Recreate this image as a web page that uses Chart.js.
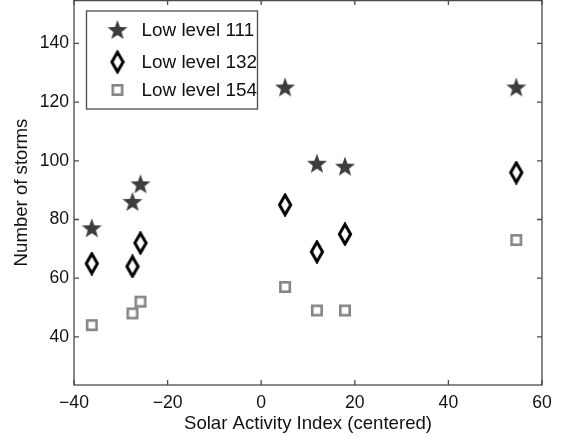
<!DOCTYPE html>
<html>
<head>
<meta charset="utf-8">
<script src="https://cdn.jsdelivr.net/npm/chart.js@4/dist/chart.umd.min.js"></script>
<style>
  html, body { margin: 0; padding: 0; background: #fff; overflow: hidden; }
  #wrap { width: 564px; height: 438px; overflow: hidden; }
  #c { display: block; }
</style>
</head>
<body>
<div id="wrap"><canvas id="c" width="564" height="438"></canvas></div>
<script>
// Solar activity index (centered) for each period
const solarIndex = [-36.2, -27.5, -25.8, 5.1, 11.9, 17.9, 54.5];
// Storm counts per low-level threshold
const stormsLow111 = [77, 86, 92, 125, 99, 98, 125];
const stormsLow132 = [65, 64, 72, 85, 69, 75, 96];
const stormsLow154 = [44, 48, 52, 57, 49, 49, 73];
const seriesNames = ['Low level 111', 'Low level 132', 'Low level 154'];
const xTickValues = [-40, -20, 0, 20, 40, 60];
const yTickValues = [40, 60, 80, 100, 120, 140];

const FONT = 'Liberation Sans, Arial, Helvetica, sans-serif';
const TICK_SIZE = 17.6;
const TITLE_SIZE = 18.6;
const LEGEND_SIZE = 18.9;
const PAGE_W = 564, PAGE_H = 438;
const PLOT_H = 385;   // height of the framed plot, flush with the page top

// Marker glyphs drawn once onto small canvases
function starMarker() {
  const c = document.createElement('canvas');
  c.width = 22; c.height = 22;
  const g = c.getContext('2d');
  const cx = 11, cy = 11.6, R = 10.5, r = 4.3;
  g.beginPath();
  for (let i = 0; i < 10; i++) {
    const a = -Math.PI / 2 + i * Math.PI / 5;
    const rad = i % 2 === 0 ? R : r;
    const px = cx + rad * Math.cos(a), py = cy + rad * Math.sin(a);
    i === 0 ? g.moveTo(px, py) : g.lineTo(px, py);
  }
  g.closePath();
  g.fillStyle = '#3d3d3d';
  g.fill();
  return c;
}
function diamondMarker() {
  const c = document.createElement('canvas');
  c.width = 16; c.height = 24;
  const g = c.getContext('2d');
  g.beginPath();
  g.moveTo(8, 2.2); g.lineTo(13.6, 12); g.lineTo(8, 21.8); g.lineTo(2.4, 12);
  g.closePath();
  g.fillStyle = '#fff';
  g.fill();
  g.lineWidth = 3;
  g.lineJoin = 'miter';
  g.strokeStyle = '#000';
  g.stroke();
  return c;
}
function squareMarker() {
  const c = document.createElement('canvas');
  c.width = 14; c.height = 14;
  const g = c.getContext('2d');
  g.fillStyle = '#fff';
  g.fillRect(2, 2, 10, 10);
  g.lineWidth = 2.6;
  g.strokeStyle = '#858585';
  g.strokeRect(2.3, 2.3, 9.4, 9.4);
  return c;
}
const markers = [starMarker(), diamondMarker(), squareMarker()];

const seriesValues = [stormsLow111, stormsLow132, stormsLow154];
const datasets = seriesValues.map((vals, i) => ({
  label: seriesNames[i],
  data: solarIndex.map((x, j) => ({ x: x, y: vals[j] })),
  pointStyle: markers[i],
  pointRadius: 10,
  showLine: false
}));

const minus = v => (v < 0 ? '\u2212' + Math.abs(v) : String(v));

// Boxed frame with inward ticks on all four sides
const framePlugin = {
  id: 'frame',
  beforeDatasetsDraw(chart) {
    const { ctx, chartArea: a, scales } = chart;
    ctx.save();
    ctx.strokeStyle = '#4a4a4a';
    ctx.lineWidth = 1.3;
    ctx.strokeRect(a.left, a.top + 0.6, a.right - a.left, a.bottom - a.top - 0.6);
    const t = 5;
    ctx.beginPath();
    xTickValues.forEach(v => {
      const px = scales.x.getPixelForValue(v);
      ctx.moveTo(px, a.bottom); ctx.lineTo(px, a.bottom - t);
      ctx.moveTo(px, a.top); ctx.lineTo(px, a.top + t);
    });
    yTickValues.forEach(v => {
      const py = scales.y.getPixelForValue(v);
      ctx.moveTo(a.left, py); ctx.lineTo(a.left + t, py);
      ctx.moveTo(a.right, py); ctx.lineTo(a.right - t, py);
    });
    ctx.stroke();
    ctx.restore();
  }
};

// Boxed legend in the upper-left of the plot
const boxLegendPlugin = {
  id: 'boxLegend',
  afterDraw(chart) {
    const { ctx, chartArea: a } = chart;
    const x0 = a.left + 12.5, y0 = a.top + 11, w = 171, h = 98;
    ctx.save();
    ctx.fillStyle = '#fff';
    ctx.fillRect(x0, y0, w, h);
    ctx.strokeStyle = '#4a4a4a';
    ctx.lineWidth = 1.3;
    ctx.strokeRect(x0, y0, w, h);
    ctx.font = LEGEND_SIZE + 'px ' + FONT;
    ctx.fillStyle = '#111';
    ctx.textBaseline = 'middle';
    ctx.textAlign = 'left';
    const rows = [30, 62, 90];
    chart.data.datasets.forEach((ds, i) => {
      const img = ds.pointStyle;
      const cy = a.top + rows[i];
      ctx.drawImage(img, x0 + 31 - img.width / 2, cy - img.height / 2);
      ctx.fillText(ds.label, x0 + 55, cy + 1);
    });
    ctx.restore();
  }
};

const canvas = document.getElementById('c');
const chart = new Chart(canvas, {
  type: 'scatter',
  data: { datasets: datasets },
  plugins: [framePlugin, boxLegendPlugin],
  options: {
    responsive: false,
    maintainAspectRatio: false,
    animation: false,
    events: [],
    layout: { padding: { left: 0, right: 22, top: 0, bottom: 0 } },
    plugins: { legend: { display: false }, tooltip: { enabled: false } },
    scales: {
      x: {
        type: 'linear',
        min: -40, max: 60,
        afterBuildTicks: s => { s.ticks = xTickValues.map(v => ({ value: v })); },
        afterFit: s => { s.height = 53; s.paddingLeft = 0; s.paddingRight = 0; },
        grid: { display: false, drawTicks: false },
        border: { display: false },
        ticks: {
          padding: 8,
          color: '#111',
          font: { family: FONT, size: TICK_SIZE },
          callback: v => minus(v)
        },
        title: {
          display: true,
          text: 'Solar Activity Index (centered)',
          color: '#111',
          font: { family: FONT, size: TITLE_SIZE },
          padding: { top: 0, bottom: 3 }
        }
      },
      y: {
        type: 'linear',
        min: 23.6, max: 154.8,
        afterBuildTicks: s => { s.ticks = yTickValues.map(v => ({ value: v })); },
        afterFit: s => { s.width = 74; s.paddingTop = 0; s.paddingBottom = 0; },
        grid: { display: false, drawTicks: false },
        border: { display: false },
        ticks: {
          padding: 5,
          color: '#111',
          font: { family: FONT, size: TICK_SIZE },
          callback: v => minus(v)
        },
        title: {
          display: true,
          text: 'Number of storms',
          color: '#111',
          font: { family: FONT, size: TITLE_SIZE },
          padding: { top: 11, bottom: 0 }
        }
      }
    }
  }
});

// Keep the plot frame flush with the page top: size the canvas so the plot is
// PLOT_H tall, then lift it by the top inset the layout reserved.
let canvasH = PAGE_H;
for (let k = 0; k < 4; k++) {
  const a = chart.chartArea;
  const diff = PLOT_H - (a.bottom - a.top);
  if (Math.abs(diff) < 0.25) break;
  canvasH += diff;
  chart.resize(PAGE_W, canvasH);
}
canvas.style.marginTop = (-chart.chartArea.top) + 'px';
</script>
</body>
</html>
